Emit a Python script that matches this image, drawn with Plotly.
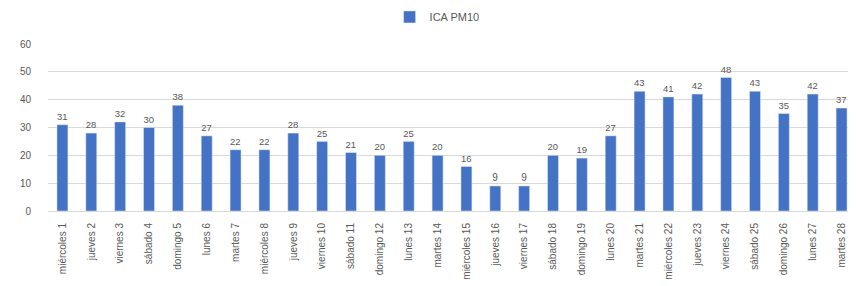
import plotly.graph_objects as go

categories = ["miércoles 1", "jueves 2", "viernes 3", "sábado 4", "domingo 5", "lunes 6",
              "martes 7", "miércoles 8", "jueves 9", "viernes 10", "sábado 11", "domingo 12",
              "lunes 13", "martes 14", "miércoles 15", "jueves 16", "viernes 17", "sábado 18",
              "domingo 19", "lunes 20", "martes 21", "miércoles 22", "jueves 23", "viernes 24",
              "sábado 25", "domingo 26", "lunes 27", "martes 28"]
ica_pm10 = [31, 28, 32, 30, 38, 27, 22, 22, 28, 25, 21, 20, 25, 20, 16, 9, 9, 20,
            19, 27, 43, 41, 42, 48, 43, 35, 42, 37]
y_ticks = [0, 10, 20, 30, 40, 50, 60]

fig = go.Figure()
fig.add_trace(go.Bar(
    x=categories, y=ica_pm10, name="ICA PM10",
    marker=dict(color="#4472C4"),
    width=0.38,
    text=ica_pm10, textposition="outside",
    textfont=dict(size=10, color="#595959", family="Liberation Sans"),
    cliponaxis=False,
))

fig.update_layout(
    width=848, height=278,
    margin=dict(l=40, r=0, t=36, b=75, autoexpand=False),
    paper_bgcolor="white", plot_bgcolor="white",
    font=dict(family="Liberation Sans", size=10, color="#595959"),
    showlegend=True,
    legend=dict(orientation="h", x=0.45, xanchor="left", y=0.968, yanchor="middle",
                yref="container", xref="container", font=dict(size=11, color="#595959"),
                itemwidth=30),
)
fig.update_yaxes(range=[0, 60], tickvals=y_ticks, showgrid=True, gridcolor="#d9d9d9",
                 zeroline=False, showline=False, ticks="", automargin=False,
                 ticklabelstandoff=16, tickfont=dict(size=10, color="#595959"))
fig.update_xaxes(tickangle=-90, showline=True, linecolor="#d9d9d9", ticks="",
                 automargin=False, ticklabelstandoff=7,
                 tickfont=dict(size=10, color="#595959"))

fig.write_html("out.html")
